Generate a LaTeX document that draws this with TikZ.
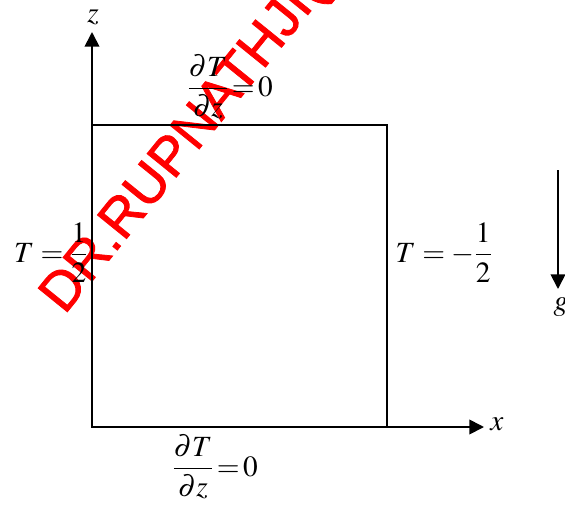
\documentclass[tikz,border=0pt]{standalone}
\usepackage{amsmath}
\usepackage{mathptmx}
\usepackage{fontspec}
\newfontfamily\wmfont{Liberation Sans}
\usetikzlibrary{arrows.meta}
\begin{document}
\begin{tikzpicture}[x=0.75pt,y=-0.75pt,line width=1.3pt,
  lbl/.style={inner sep=0pt,font=\fontsize{22}{26}\selectfont},
  tip/.style={-{Triangle[length=11pt,width=11pt]}},
  wm/.style={inner sep=0pt,text=red,font=\wmfont\fontsize{41}{44}\selectfont}]
\useasboundingbox (0,0) rectangle (565,508);
% watermark
\node[wm,anchor=base west,rotate=51] (wmark) at (64,316)
  {\special{pdf:literal direct 2 Tr 0.6 w}DR.RUPNATHJI( DR.RUPAK NATH )\special{pdf:literal direct 0 Tr}};
% box and axes
\coordinate (BL) at (92,427);
\coordinate (TR) at (387,125);
\coordinate (ztip) at (92,32);
\coordinate (xtip) at (484,427);
\draw (BL) rectangle (TR);
\draw[tip] (BL) -- (ztip);
\draw[tip] (BL) -- (xtip);
\node[lbl] (zl) at (93,17) {$z$};
\node[lbl] (xl) at (497,424) {$x$};
% gravity
\coordinate (gtop) at (558,170);
\coordinate (gtip) at (558,289);
\draw[tip] (gtop) -- (gtip);
\node[lbl] (gl) at (561,307) {$g$};
% boundary conditions
\node[lbl,anchor=base] (top) at (230,96) {$\dfrac{\partial T}{\partial z}\!=\!0$};
\node[lbl,anchor=base] (bot) at (215,476) {$\dfrac{\partial T}{\partial z}\!=\!0$};
\node[lbl,anchor=base] (left) at (51,262) {$T=\dfrac{1}{2}$};
\node[lbl,anchor=base] (right) at (444,262) {$T=-\dfrac{1}{2}$};
\end{tikzpicture}
\end{document}
